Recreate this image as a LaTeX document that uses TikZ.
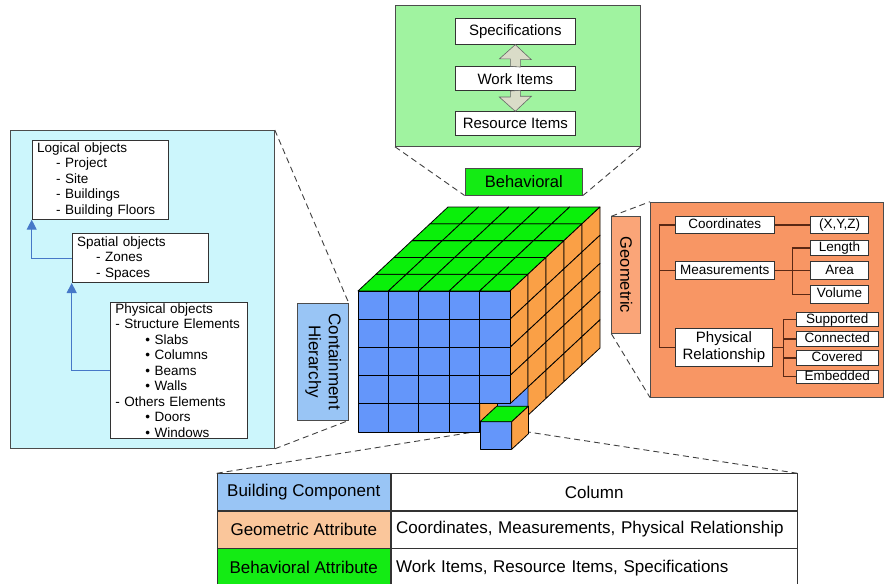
\documentclass[tikz,border=0pt]{standalone}
\usepackage{fontspec}
\setmainfont{Liberation Sans}
\usepackage{graphicx}
\usetikzlibrary{arrows.meta,calc}

\definecolor{hiercyan}{RGB}{204,246,252}
\definecolor{hierblue}{RGB}{153,197,245}
\definecolor{behlight}{RGB}{160,243,160}
\definecolor{behgreen}{RGB}{20,235,20}
\definecolor{geosalmon}{RGB}{248,150,100}
\definecolor{geolight}{RGB}{250,165,120}
\definecolor{geopeach}{RGB}{250,198,155}
\definecolor{cubeblue}{RGB}{100,150,250}
\definecolor{cubegreen}{RGB}{10,240,10}
\definecolor{cubeorange}{RGB}{250,160,70}
\definecolor{treebrown}{RGB}{90,40,20}
\definecolor{linkblue}{RGB}{70,120,200}
\definecolor{arrowgray}{RGB}{218,220,200}

\tikzset{
  panel/.style={draw=black!70, line width=0.8pt, inner sep=0pt},
  wbox/.style={draw=black!80, fill=white, line width=0.7pt, inner sep=1pt},
  listbox/.style={wbox, anchor=north west, align=left, inner xsep=5pt, font=\fontsize{13.5}{15.5}\selectfont},
  treebox/.style={wbox, inner sep=0pt, font=\fontsize{13.5}{15}\selectfont, text height=9.5pt, text depth=2.5pt},
  cell/.style={draw=black!80, line width=0.8pt, anchor=north west, inner sep=0pt, minimum height=36.7pt, font=\fontsize{17}{20}\selectfont},
  zoomline/.style={draw=black!75, line width=0.9pt, dash pattern=on 6pt off 4pt},
  uplink/.style={draw=linkblue, line width=1.1pt, -{Triangle[width=10pt,length=10pt]}},
  treeline/.style={draw=treebrown, line width=1.2pt},
  blockarr/.style={draw=black!60, fill=arrowgray, line width=0.6pt},
  face/.style={draw=black, line width=0.8pt, line join=round},
}

\begin{document}
\begin{tikzpicture}[x=1pt,y=-1pt]
\useasboundingbox (0,0) rectangle (885,583);

% containment hierarchy
\node[panel, fill=hiercyan, anchor=north west, minimum width=264pt, minimum height=318pt] (hier) at (10,130) {};
\node[listbox, text width=126.6pt, minimum height=79pt] (logical) at (31.7,140)
  {Logical objects\\
   \hspace*{19pt}- Project\\
   \hspace*{19pt}- Site\\
   \hspace*{19pt}- Buildings\\
   \hspace*{19pt}- Building Floors};
\node[listbox, text width=126pt, minimum height=49pt] (spatial) at (71.7,233.3)
  {Spatial objects\\
   \hspace*{19pt}- Zones\\
   \hspace*{19pt}- Spaces};
\node[listbox, text width=126.6pt, minimum height=136.6pt] (physical) at (110,301.7)
  {Physical objects\\
   - Structure Elements\\
   \hspace*{30pt}\textbullet\ Slabs\\
   \hspace*{30pt}\textbullet\ Columns\\
   \hspace*{30pt}\textbullet\ Beams\\
   \hspace*{30pt}\textbullet\ Walls\\
   - Others Elements\\
   \hspace*{30pt}\textbullet\ Doors\\
   \hspace*{30pt}\textbullet\ Windows};
\draw[uplink] (spatial.west) -| (logical.south west);
\draw[uplink] (physical.west) -| (spatial.south west);

\node[panel, fill=hierblue, minimum width=51pt, minimum height=116.7pt, font=\fontsize{17}{20}\selectfont] (contlabel) at (322.8,361.7)
  {\rotatebox{-90}{\begin{tabular}{@{}c@{}}Containment\\Hierarchy\end{tabular}}};
\draw[zoomline] (hier.north east) -- (contlabel.north east);
\draw[zoomline] (hier.south east) -- (contlabel.south east);

% behavioral
\node[panel, fill=behlight, anchor=north west, minimum width=245pt, minimum height=141pt] (behpanel) at (395,5) {};
\node[wbox, font=\fontsize{15}{17}\selectfont, minimum width=119.3pt, minimum height=26pt] (spec) at (515.3,31.3) {Specifications};
\node[wbox, font=\fontsize{15}{17}\selectfont, minimum width=119.3pt, minimum height=24pt] (work) at (515.3,78.7) {Work Items};
\node[wbox, font=\fontsize{15}{17}\selectfont, minimum width=119.3pt, minimum height=23.3pt] (res) at (515.3,123.3) {Resource Items};
\filldraw[blockarr] ($(work.north)+(-5,0)$) -- ++(0,-7.4) -- ++(-11,0) -- (spec.south) -- ++(16,15) -- ++(-11,0) -- ++(0,7.4) -- cycle;
\filldraw[blockarr] ($(work.south)+(-5,0)$) -- ++(0,6) -- ++(-11,0) -- (res.north) -- ++(16,-15) -- ++(-11,0) -- ++(0,-6) -- cycle;

\node[panel, fill=behgreen, minimum width=117.7pt, minimum height=26.7pt, font=\fontsize{16.5}{19}\selectfont] (behlabel) at (523.8,181.7) {Behavioral};
\draw[zoomline] (behpanel.south west) -- (behlabel.south west);
\draw[zoomline] (behpanel.south east) -- (behlabel.south east);

% geometric
\node[panel, fill=geosalmon, anchor=north west, minimum width=233pt, minimum height=195pt] (geopanel) at (650,201.7) {};
\node[panel, fill=geolight, minimum width=29pt, minimum height=116.6pt, font=\fontsize{16.5}{19}\selectfont] (geolabel) at (626.2,275) {\rotatebox{-90}{Geometric}};
\draw[zoomline] (geolabel.north west) -- (geopanel.north west);
\draw[zoomline] (geolabel.south west) -- (geopanel.south west);

\node[treebox, minimum width=99.3pt, minimum height=16.6pt] (coord) at (724.7,225) {Coordinates};
\node[treebox, minimum width=99.3pt, minimum height=17.6pt] (meas) at (724.7,270.5) {Measurements};
\node[wbox, inner sep=0pt, align=center, font=\fontsize{15}{17}\selectfont, minimum width=97.7pt, minimum height=38.4pt] (physrel) at (723.9,347.5) {Physical\\Relationship};
\node[treebox, minimum width=57.6pt, minimum height=16.6pt] (xyz) at (839.5,225) {(X,Y,Z)};
\node[treebox, minimum width=57.6pt, minimum height=14.3pt] (length) at (839.5,247.9) {Length};
\node[treebox, minimum width=57.6pt, minimum height=17.6pt] (area) at (839.5,270.5) {Area};
\node[treebox, minimum width=57.6pt, minimum height=18.3pt] (volume) at (839.5,294.2) {Volume};
\node[treebox, minimum width=82.3pt, minimum height=14pt] (supported) at (837.2,319.7) {Supported};
\node[treebox, minimum width=82.3pt, minimum height=14.3pt] (connected) at (837.2,338.9) {Connected};
\node[treebox, minimum width=82.3pt, minimum height=14.3pt] (covered) at (837.2,357.9) {Covered};
\node[treebox, minimum width=82.3pt, minimum height=13.3pt] (embedded) at (837.2,376.7) {Embedded};

\coordinate (mfork) at ($(meas.east)+(17.4,0)$);
\coordinate (pfork) at ($(physrel.east)+(10.6,0)$);
\draw[treeline] (coord.west) -- ++(-15,0) |- (physrel.west);
\draw[treeline] (meas.west) -- ++(-15,0);
\draw[treeline] (coord.east) -- (xyz.west);
\draw[treeline] (meas.east) -- (area.west);
\draw[treeline] (length.west) -| (mfork) |- (volume.west);
\draw[treeline] (physrel.east) -- (pfork);
\draw[treeline] (supported.west) -| (pfork) |- (embedded.west);
\draw[treeline] (connected.west) -- (connected.west -| pfork);
\draw[treeline] (covered.west) -- (covered.west -| pfork);

% table
\node[cell, fill=hierblue, minimum width=173.3pt] (bc) at (216.7,473.3) {Building Component};
\node[cell, fill=white, minimum width=406pt] (bcval) at (bc.north east) {Column};
\node[cell, fill=geopeach, minimum width=173.3pt] (ga) at (bc.south west) {Geometric Attribute};
\node[cell, fill=white, minimum width=406pt, text width=396pt, inner xsep=5pt, align=left] (gaval) at (ga.north east) {Coordinates, Measurements, Physical Relationship};
\node[cell, fill=behgreen, minimum width=173.3pt, minimum height=38pt] (ba) at (ga.south west) {Behavioral Attribute};
\node[cell, fill=white, minimum width=406pt, minimum height=38pt, text width=396pt, inner xsep=5pt, align=left] (baval) at (ba.north east) {Work Items, Resource Items, Specifications};

\coordinate (pickL) at (480,431);
\coordinate (pickR) at (528,432);
\draw[zoomline] (bc.north west) -- (pickL);
\draw[zoomline] (bcval.north east) -- (pickR);

% cube
\coordinate (hole) at (479.6,403.8);
\filldraw[face, fill=cubeorange] (hole) -- ++(18,-16.8) -- ++(0,28.2) -- ++(-18,16.8) -- cycle;
\filldraw[face, fill=cubeblue] ($(hole)+(18,-16.8)$) rectangle ++(30.4,28.2);

\foreach \i in {0,...,4}
  \foreach \k in {0,...,4}
    \filldraw[face, fill=cubegreen] ({358+30.4*\i+18*\k},{291-16.8*\k}) -- ++(30.4,0) -- ++(18,-16.8) -- ++(-30.4,0) -- cycle;

\foreach \k in {0,...,4}
  \foreach \j in {0,...,4}{
    \ifnum\k\j=4 \else
      \filldraw[face, fill=cubeorange] ({510+18*\k},{291+28.2*\j-16.8*\k}) -- ++(18,-16.8) -- ++(0,28.2) -- ++(-18,16.8) -- cycle;
    \fi}

\foreach \i in {0,...,4}
  \foreach \j in {0,...,4}{
    \ifnum\i\j=44 \else
      \filldraw[face, fill=cubeblue] ({358+30.4*\i},{291+28.2*\j}) rectangle ++(30.4,28.2);
    \fi}

% picked cell
\coordinate (pick) at (480,421.7);
\filldraw[face, fill=cubeblue] (pick) rectangle ++(31.7,27.6);
\filldraw[face, fill=cubegreen] (pick) -- ++(31.7,0) -- ++(16.7,-15.5) -- ++(-31.7,0) -- cycle;
\filldraw[face, fill=cubeorange] ($(pick)+(31.7,0)$) -- ++(16.7,-15.5) -- ++(0,27.6) -- ++(-16.7,15.5) -- cycle;
\end{tikzpicture}
\end{document}
